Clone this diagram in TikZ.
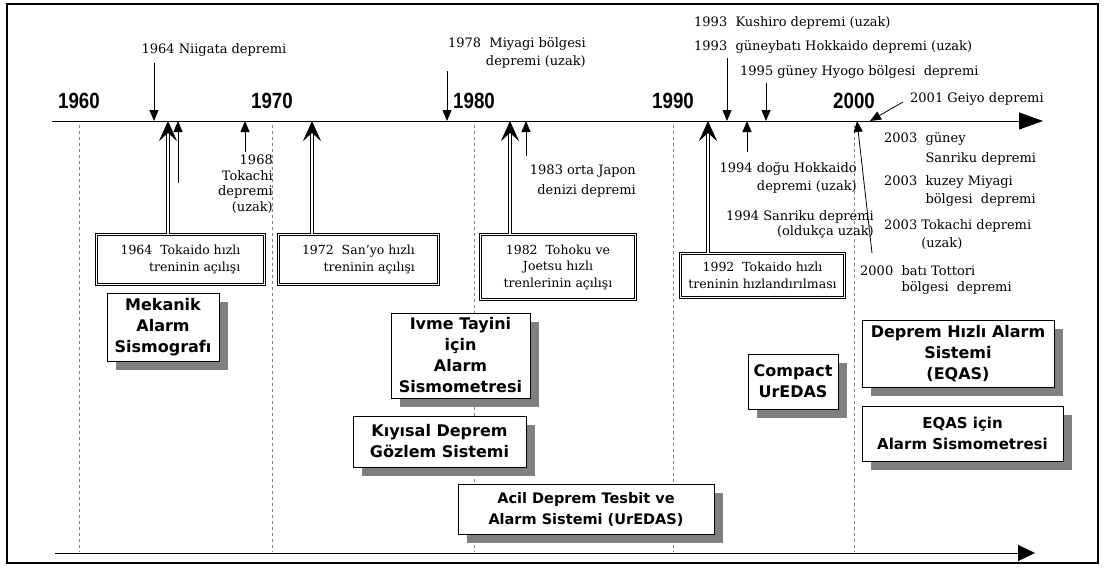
\documentclass[tikz,border=0pt]{standalone}
\usepackage{fontspec}
\setmainfont{DejaVu Serif}
\newfontfamily\boxfont{DejaVu Sans}
\newfontfamily\yearfont{Liberation Sans}
\usetikzlibrary{arrows.meta}
\usetikzlibrary{shadows}

\tikzset{
    axis/.style = {line width=0.9pt, -{Triangle[length=24pt,width=17pt]}},
    quake/.style = {line width=0.8pt, -{Triangle[length=11pt,width=9pt]}},
    train/.style = {double, double distance=2.2pt, line width=0.7pt,
        -{Stealth[length=20pt,width=18pt,inset=8pt]}},
    yearline/.style = {gray, dashed, line width=0.9pt},
    year/.style = {font=\yearfont\bfseries\fontsize{22}{22}\selectfont, xscale=0.85, transform shape},
    qtext/.style = {inner sep=0pt, font=\fontsize{13}{18}\selectfont},
    trainbox/.style = {draw, double, double distance=1.6pt, line width=0.7pt,
        fill=white, inner sep=2pt, font=\fontsize{12.5}{16.5}\selectfont},
    sysbox/.style = {draw, fill=white, line width=0.8pt, align=center, inner sep=2pt,
        font=\boxfont\bfseries\fontsize{16}{21}\selectfont,
        drop shadow={shadow xshift=9pt, shadow yshift=-9pt, fill=gray, opacity=1}}
}

\begin{document}
\begin{tikzpicture}[x=1pt, y=-1pt]
    \useasboundingbox (0,0) rectangle (1105,568);
    \draw[line width=2pt] (7,4) rectangle (1098,563);

    \foreach \x/\yr in {79/1960, 272/1970, 474/1980, 673/1990, 854/2000}{
        \node[year] (yr\yr) at (\x,101) {\yr};
        \draw[yearline] (\x,125) -- (\x,552);
    }

    \coordinate (t0) at (52,121);
    \coordinate (t1) at (1043,121);
    \coordinate (b0) at (55,553);
    \coordinate (b1) at (1035,553);
    \draw[axis] (t0) -- (t1);
    \draw[line width=0.9pt, -{Triangle[length=17pt,width=16pt]}] (b0) -- (b1);

    % events on the time axis
    \coordinate (e64n) at (154,121);
    \coordinate (e64t) at (168,121);
    \coordinate (e64s) at (178,121);
    \coordinate (e68) at (245,121);
    \coordinate (e72) at (312,121);
    \coordinate (e78) at (447,121);
    \coordinate (e82) at (510,121);
    \coordinate (e83) at (526,121);
    \coordinate (e92) at (708,121);
    \coordinate (e93) at (727,121);
    \coordinate (e94) at (747,121);
    \coordinate (e95) at (766,121);
    \coordinate (e00) at (857,121);
    \coordinate (e01) at (870,121);
    \coordinate (s64) at (178,183);

    \node[qtext] (niigata) at (214,50) {1964 Niigata depremi};
    \node[qtext, anchor=north east, align=right, font=\fontsize{13}{15.5}\selectfont]
        (tokachi68) at (273,155) {1968\\Tokachi\\depremi\\(uzak)};
    \node[qtext, anchor=north east, align=right] (miyagi78) at (586,37)
        {1978~~Miyagi bölgesi\\depremi (uzak)};
    \node[qtext, anchor=north east, align=right, font=\fontsize{13}{20}\selectfont]
        (japon83) at (636,165) {1983 orta Japon\\denizi depremi};
    \node[qtext, anchor=west] (kushiro93) at (694,23) {1993~~Kushiro depremi (uzak)};
    \node[qtext, anchor=west] (hokkaido93) at (694,47) {1993~~güneybatı Hokkaido depremi (uzak)};
    \node[qtext, anchor=west] (hyogo95) at (740,72) {1995 güney Hyogo bölgesi~~depremi};
    \node[qtext, anchor=west] (geiyo01) at (910,99) {2001 Geiyo depremi};
    \node[qtext, anchor=north east, align=right] (hokkaido94) at (857,162)
        {1994 doğu Hokkaido\\depremi (uzak)};
    \node[qtext, anchor=north east, align=right, font=\fontsize{13}{15.5}\selectfont]
        (sanriku94) at (874,210) {1994 Sanriku depremi\\(oldukça uzak)};
    \node[qtext, anchor=north west, align=left, font=\fontsize{13}{20}\selectfont]
        (sanriku03) at (884,132) {2003~~güney\\\phantom{2003~~}Sanriku depremi};
    \node[qtext, anchor=north west, align=left] (miyagi03) at (884,175)
        {2003~~kuzey Miyagi\\\phantom{2003~~}bölgesi~~depremi};
    \node[qtext, anchor=north west, align=left] (tokachi03) at (884,219)
        {2003 Tokachi depremi\\\phantom{2003 }(uzak)};
    \node[qtext, anchor=north west, align=left, font=\fontsize{13}{16}\selectfont]
        (tottori00) at (860,265) {2000~~batı Tottori\\\phantom{2000~~}bölgesi~~depremi};

    \draw[quake, shorten <=6pt] (niigata.south -| e64n) -- (e64n);
    \draw[quake, shorten <=3pt] (miyagi78.south -| e78) -- (e78);
    \draw[quake, shorten <=4pt] (hokkaido93.south -| e93) -- (e93);
    \draw[quake, shorten <=4pt] (hyogo95.south -| e95) -- (e95);
    \draw[quake] ([xshift=-7pt,yshift=-3pt]geiyo01.west) -- (e01);
    \draw[quake] (s64) -- (e64s);
    \draw[quake, shorten <=3pt] (tokachi68.north -| e68) -- (e68);
    \draw[quake, shorten <=9pt] (japon83.north -| e83) -- (e83);
    \draw[quake, shorten <=10pt] (hokkaido94.north -| e94) -- (e94);
    \draw[quake] ([xshift=12pt,yshift=12pt]tottori00.north west) -- (e00);

    % train lines
    \node[trainbox, align=right, minimum width=168pt, minimum height=50pt]
        (tr64) at (180.5,259.5) {1964~~Tokaido hızlı\\treninin açılışı};
    \node[trainbox, align=right, minimum width=160pt, minimum height=50pt]
        (tr72) at (358.5,259.5) {1972~~San'yo hızlı\\treninin açılışı};
    \node[trainbox, align=center, minimum width=155pt, minimum height=65pt]
        (tr82) at (558,267) {1982~~Tohoku ve\\Joetsu hızlı\\trenlerinin açılışı};
    \node[trainbox, align=center, minimum width=164pt, minimum height=44pt]
        (tr92) at (762.5,275.5) {1992~~Tokaido hızlı\\treninin hızlandırılması};

    \draw[train] (tr64.north -| e64t) -- (e64t);
    \draw[train] (tr72.north -| e72) -- (e72);
    \draw[train] (tr82.north -| e82) -- (e82);
    \draw[train] (tr92.north -| e92) -- (e92);

    % alarm systems
    \node[sysbox, minimum width=112pt, minimum height=68pt] (mekanik) at (163,327)
        {Mekanik\\Alarm\\Sismografı};
    \node[sysbox, minimum width=139pt, minimum height=85pt] (ivme) at (460.5,355.5)
        {Ivme Tayini\\için\\Alarm\\Sismometresi};
    \node[sysbox, minimum width=173pt, minimum height=51pt] (kiyisal) at (439.5,441.5)
        {Kıyısal Deprem\\Gözlem Sistemi};
    \node[sysbox, minimum width=256pt, minimum height=50pt,
        font=\boxfont\bfseries\fontsize{14.5}{21}\selectfont] (uredas) at (586,509)
        {Acil Deprem Tesbit ve\\Alarm Sistemi (UrEDAS)};
    \node[sysbox, minimum width=90pt, minimum height=55pt] (compact) at (793,381.5)
        {Compact\\UrEDAS};
    \node[sysbox, minimum width=192pt, minimum height=67pt] (eqas) at (958,353.5)
        {Deprem Hızlı Alarm\\Sistemi\\(EQAS)};
    \node[sysbox, minimum width=201pt, minimum height=55pt,
        font=\boxfont\bfseries\fontsize{15}{21}\selectfont] (eqasalarm) at (962.5,433.5)
        {EQAS için\\Alarm Sismometresi};
\end{tikzpicture}
\end{document}
